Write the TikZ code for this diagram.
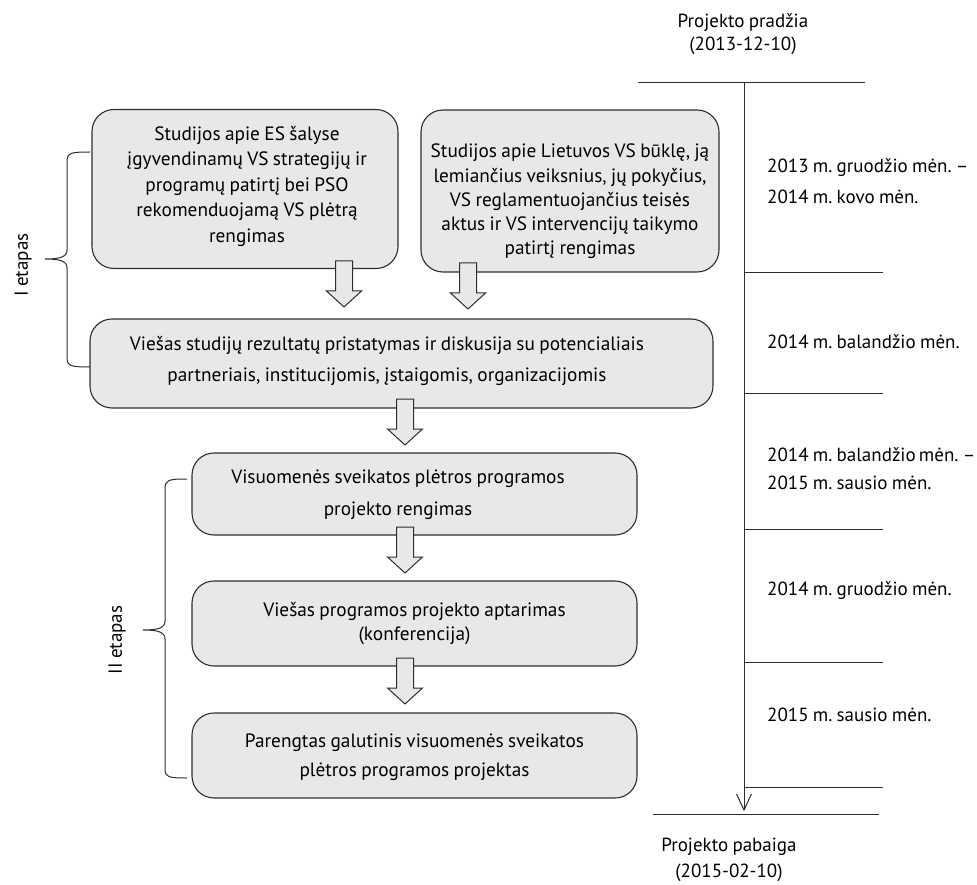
\documentclass[tikz,border=0pt]{standalone}
\usepackage{fontspec}
\setmainfont{PT Sans}[WordSpace=0.85]
\frenchspacing
\usetikzlibrary{calc}
\definecolor{boxfill}{HTML}{E8E8EA}
\definecolor{edge}{HTML}{2E2E2E}
\tikzset{
  stagebox/.style={draw=edge, line width=1.1pt, fill=boxfill, rounded corners=22pt, inner sep=0pt},
  boxtext/.style={align=center, inner sep=0pt, font=\fontsize{19.3}{25.5}\selectfont},
  blockarrow/.style={draw=edge, line width=1pt, fill=boxfill, line join=miter},
  tline/.style={draw=edge, line width=1pt},
  brace/.style={draw=edge, line width=1pt},
  tlabel/.style={align=left, anchor=west, inner sep=0pt, font=\fontsize{19}{24}\selectfont},
  clabel/.style={align=center, inner sep=0pt, font=\fontsize{19}{24}\selectfont},
  stagelabel/.style={rotate=90, inner sep=0pt, font=\fontsize{19}{22}\selectfont}
}
\newcommand{\barrow}[1]{%
  \draw[blockarrow] (#1) ++(-8.5,0) -- ++(0,30) -- ++(-9,0) -- ++(17.5,16) -- ++(17.5,-16) -- ++(-9,0) -- ++(0,-30) -- cycle;}
\begin{document}
\begin{tikzpicture}[x=1pt,y=-1pt]
\useasboundingbox (0,0) rectangle (977,885);

% boxes
\node[stagebox, minimum width=306pt, minimum height=159pt] (b1) at (245,189) {};
\node[boxtext] (b1t) at (247,186)
  {Studijos apie ES šalyse\\ įgyvendinamų VS strategijų ir\\ programų patirtį bei PSO\\ rekomenduojamą VS plėtrą\\ rengimas};
\node[stagebox, minimum width=298pt, minimum height=162pt] (b2) at (570,191) {};
\node[boxtext, font=\fontsize{19.3}{24.3}\selectfont] (b2t) at (570,201.5)
  {Studijos apie Lietuvos VS būklę, ją\\ lemiančius veiksnius, jų pokyčius,\\ VS reglamentuojančius teisės\\ aktus ir VS intervencijų taikymo\\ patirtį rengimas};
\node[stagebox, minimum width=623pt, minimum height=89pt] (b3) at (401.5,363.5) {};
\node[boxtext, font=\fontsize{19.3}{31}\selectfont] (b3t) at (387,360.5)
  {Viešas studijų rezultatų pristatymas ir diskusija su potencialiais\\ partneriais, institucijomis, įstaigomis, organizacijomis};
\node[stagebox, minimum width=445pt, minimum height=82pt] (b4) at (414.5,494) {};
\node[boxtext, font=\fontsize{19.3}{32}\selectfont] (b4t) at (398,495)
  {Visuomenės sveikatos plėtros programos\\ projekto rengimas};
\node[stagebox, minimum width=445pt, minimum height=85pt] (b5) at (414.5,623.5) {};
\node[boxtext, font=\fontsize{19.3}{24}\selectfont] (b5t) at (414.5,624)
  {Viešas programos projekto aptarimas\\ (konferencija)};
\node[stagebox, minimum width=445pt, minimum height=85pt] (b6) at (414.5,755.5) {};
\node[boxtext, font=\fontsize{19.3}{29}\selectfont] (b6t) at (414.5,757.5)
  {Parengtas galutinis visuomenės sveikatos\\ plėtros programos projektas};

% block arrows
\coordinate (a1) at (344,261);
\coordinate (a2) at (468,263);
\coordinate (a3) at (405,399);
\coordinate (a4) at (405,527);
\coordinate (a5) at (405,658);
\barrow{a1}\barrow{a2}\barrow{a3}\barrow{a4}\barrow{a5}

% braces
\draw[brace] (90,152) .. controls (70,152) and (67,153) .. (67,162) -- (67,250)
  .. controls (67,257) and (60,259) .. (45,259)
  .. controls (60,259) and (67,261) .. (67,268) -- (67,357)
  .. controls (67,366) and (70,367) .. (90,367);
\node[stagelabel] (l1) at (23,265) {I etapas};

\draw[brace] (187,479) .. controls (168,479) and (165,480) .. (165,489) -- (165,621)
  .. controls (165,628) and (158,630) .. (143,630)
  .. controls (158,630) and (165,632) .. (165,639) -- (165,769)
  .. controls (165,777) and (168,778) .. (187,778);
\node[stagelabel] (l2) at (117,640) {II etapas};

% timeline
\coordinate (tTop) at (744,83);
\coordinate (tEnd) at (744,810);
\draw[tline] (638,83) -- (865,83);
\draw[tline] (tTop) -- (tEnd);
\draw[tline] ($(tEnd)+(-7.5,-16)$) -- (tEnd) -- ($(tEnd)+(7.5,-16)$);
\foreach \yy in {273,393,529,662,787} { \draw[tline] (744,\yy) -- (883,\yy); }
\draw[tline] (653,814) -- (879,814);

\node[clabel, font=\fontsize{19}{23}\selectfont] (start) at (743,34) {Projekto pradžia\\ (2013-12-10)};
\node[clabel, font=\fontsize{19}{26}\selectfont] (end) at (729,860) {Projekto pabaiga\\ (2015-02-10)};

\node[tlabel, font=\fontsize{19}{31}\selectfont] (d1) at (767,181.5) {2013 m. gruodžio mėn. –\\ 2014 m. kovo mėn.};
\node[tlabel] (d2) at (767,342) {2014 m. balandžio mėn.};
\node[tlabel, font=\fontsize{19}{28}\selectfont] (d3) at (767,469) {2014 m. balandžio\,mėn. –\\ 2015 m. sausio mėn.};
\node[tlabel] (d4) at (767,591) {2014 m. gruodžio mėn.};
\node[tlabel] (d5) at (767,715) {2015 m. sausio mėn.};
\end{tikzpicture}
\end{document}
